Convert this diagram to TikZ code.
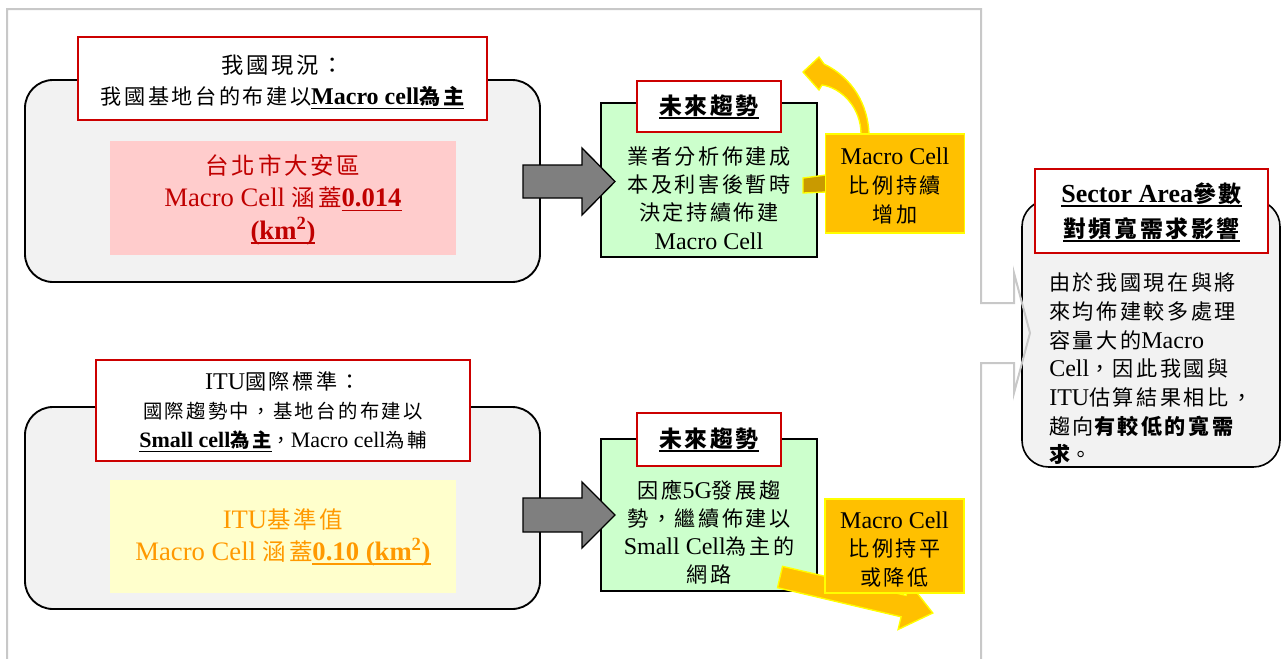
\documentclass[tikz,border=0pt]{standalone}
\usepackage{fontspec}
\setmainfont{Liberation Serif}
\newfontfamily\cjkf{Noto Sans CJK TC}[Scale=0.88,LetterSpace=12]
\newcommand\zC[1]{{\cjkf #1}}
\newcommand\zB[1]{{\bfseries #1}}
\newcommand\zU[1]{\setbox0=\hbox{#1}\rlap{\rule[-3.4pt]{\wd0}{0.9pt}}\box0}
\newcommand\fsz[2]{\fontsize{#1}{#2}\selectfont}
\definecolor{grayfill}{HTML}{F2F2F2}
\definecolor{pinkfill}{HTML}{FFCCCC}
\definecolor{yelfill}{HTML}{FFFFCC}
\definecolor{greenfill}{HTML}{CCFFCC}
\definecolor{orfill}{HTML}{FFC000}
\definecolor{yelline}{HTML}{FFFF00}
\definecolor{redline}{HTML}{CC0000}
\definecolor{darkred}{HTML}{C00000}
\definecolor{orangetext}{HTML}{FF9900}
\definecolor{arrowgray}{HTML}{7F7F7F}
\definecolor{framegray}{HTML}{C8C8C8}
\definecolor{goldpiece}{HTML}{C99A00}
\tikzset{
  px/.style 2 args={minimum width=#1*0.75pt, minimum height=#2*0.75pt},
  graybox/.style={draw=black, line width=1.4pt, fill=grayfill, rounded corners=21pt, inner sep=0pt},
  callbox/.style={draw=black, line width=1.2pt, fill=grayfill, rounded corners=20pt, inner sep=0pt},
  softbox/.style={draw=none, inner sep=0pt},
  redbox/.style={draw=redline, line width=1.2pt, fill=white, inner sep=0pt},
  greenbox/.style={draw=black, line width=1pt, fill=greenfill, inner sep=0pt},
  orbox/.style={draw=yelline, line width=1.3pt, fill=orfill, inner sep=0pt},
  txt/.style={inner sep=0pt, align=center},
  frameline/.style={draw=framegray, line width=1.5pt},
  blockarrow/.style={fill=arrowgray, draw=black, line width=1pt, line join=miter},
  yelarrow/.style={fill=orfill, draw=yelline, line width=1pt},
}
\begin{document}
\begin{tikzpicture}[x=0.75pt,y=-0.75pt]
\useasboundingbox (0,0) rectangle (1286,658);
\fill[white] (0,0) rectangle (1286,658);

% right callout
\node[callbox, px={258}{267}] (cb) at (1151,333.5) {};
\draw[frameline] (7,675) -- (7,9) -- (981,9) -- (981,303) -- (1014,303) -- (1014,273)
  -- (1030,333) -- (1014,393) -- (1014,363) -- (981,363) -- (981,675);
\node[redbox, px={233}{84}] (ct) at (1151.5,211) {};
\node[txt, font=\fsz{19.5}{26.25}\bfseries] (ctt) at (1151.5,212)
  {\zU{Sector Area\zC{參數}}\\\zU{\zC{對頻寬需求影響}}};
\node[txt, anchor=west, align=left, font=\fsz{18}{21.5}] (cbt) at (1049,369)
  {\zC{由於我國現在與將}\\\zC{來均佈建較多處理}\\\zC{容量大的}Macro\\Cell\zC{，因此我國與}\\ITU\zC{估算結果相比，}\\\zC{趨向\bfseries 有較低的寬需}\\\zC{{\bfseries 求}。}};

% left boxes
\node[graybox, px={515}{202}] (g1) at (282.5,181) {};
\node[graybox, px={515}{202}] (g2) at (282.5,508) {};
\node[softbox, fill=pinkfill, px={346}{114}] (p1) at (283,198) {};
\node[softbox, fill=yelfill, px={346}{113}] (y1) at (283,536.5) {};
\node[redbox, px={409}{83}] (r1) at (282.5,78.5) {};
\node[redbox, px={374}{101}] (r2) at (283,410.5) {};

\node[txt, text=darkred, font=\fsz{20}{24.4}] (p1t) at (283,199.5)
  {\zC{台北市大安區}\\Macro Cell \zC{涵蓋}\zU{\zB{0.014}}\\\zU{\zB{(km\textsuperscript{2})}}};
\node[txt, text=orangetext, font=\fsz{20}{24}] (y1t) at (283,537)
  {ITU\zC{基準值}\\Macro Cell \zC{涵蓋}\zU{\zB{0.10 (km\textsuperscript{2})}}};
\node[txt, font=\fsz{18}{23.25}] (r1t) at (282.5,82)
  {{\fsz{19}{23.25}\zC{我國現況：}}\\\zC{我國基地台的布建以}\zU{\zB{Macro cell\zC{為主}}}};
\node[txt, font=\fsz{16.5}{21.75}] (r2t) at (283,412)
  {{\fsz{18}{21.75}ITU\zC{國際標準：}}\\\zC{國際趨勢中，基地台的布建以}\\\zU{\zB{Small cell\zC{為主}}}\zC{，}Macro cell\zC{為輔}};

% green boxes
\node[greenbox, px={216}{154}] (gr1) at (709,180) {};
\node[greenbox, px={216}{152}] (gr2) at (709,515) {};
\node[redbox, px={144}{51}, font=\fsz{19.5}{24}] (tt1) at (709,106.5) {\zU{\zB{\zC{未來趨勢}}}};
\node[redbox, px={144}{53}, font=\fsz{19.5}{24}] (tt2) at (709,439.5) {\zU{\zB{\zC{未來趨勢}}}};

% grey block arrows
\draw[blockarrow] (523,165) -- (582,165) -- (582,148) -- (615,181.5) -- (582,215) -- (582,198) -- (523,198) -- cycle;
\draw[blockarrow] (523,498) -- (582,498) -- (582,482) -- (615,515) -- (582,548) -- (582,532) -- (523,532) -- cycle;

% yellow arrows
\draw[yelarrow] (869,134) .. controls (868,105) and (853,78) .. (824,64)
  -- (819,57) -- (803,72) -- (819,90) -- (822,85)
  .. controls (842,88) and (861,108) .. (861,134) -- cycle;
\draw[yelarrow, fill=goldpiece] (803,178) -- (826,175) -- (826,192) -- (803,193) -- cycle;
\draw[yelarrow] (782.5,566.3) -- (906.1,595.4) -- (909.1,582.7) -- (932.8,613)
  -- (898.1,629.5) -- (901.1,616.8) -- (777.5,587.7) -- cycle;

% orange boxes
\node[orbox, px={139}{99}] (o1) at (895,183.5) {};
\node[orbox, px={139}{94}] (o2) at (894.5,546) {};

% texts
\node[txt, font=\fsz{18}{21.2}] (gr1t) at (709,198)
  {\zC{業者分析佈建成}\\\zC{本及利害後暫時}\\\zC{決定持續佈建}\\Macro Cell};
\node[txt, font=\fsz{18}{21}] (gr2t) at (709,532)
  {\zC{因應}5G\zC{發展趨}\\\zC{勢，繼續佈建以}\\Small Cell\zC{為主的}\\\zC{網路}};
\node[txt, font=\fsz{18}{21.75}] (o1t) at (895,186)
  {Macro Cell\\\zC{比例持續}\\\zC{增加}};
\node[txt, font=\fsz{18}{21.5}] (o2t) at (894.5,549.5)
  {Macro Cell\\\zC{比例持平}\\\zC{或降低}};
\end{tikzpicture}
\end{document}
